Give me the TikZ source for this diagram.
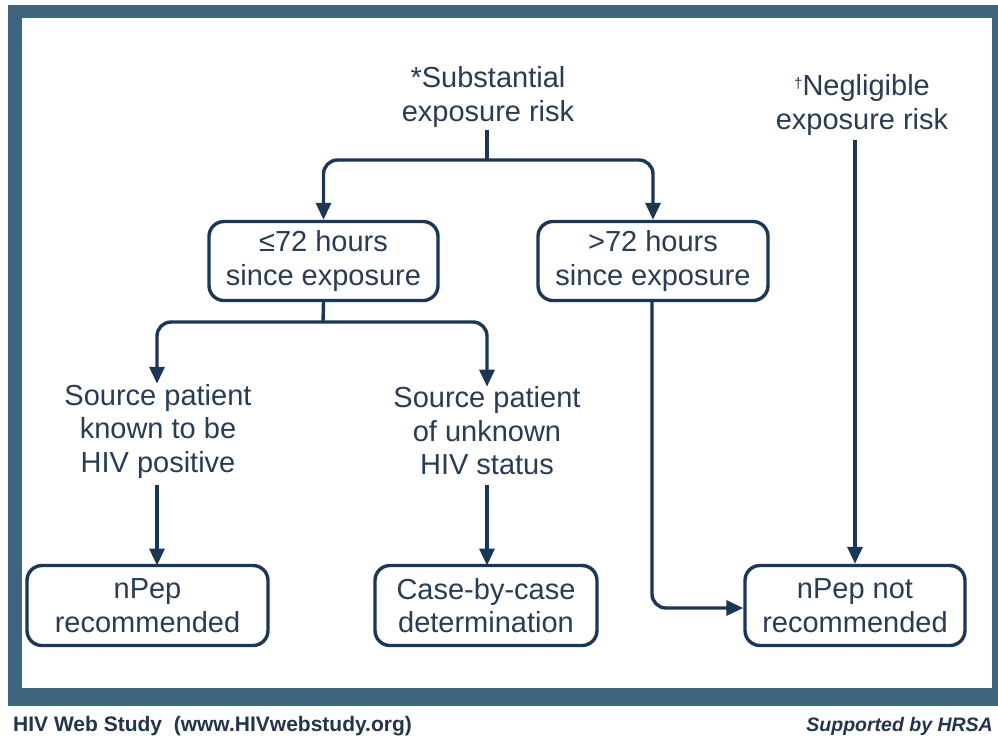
\documentclass[tikz,border=0pt]{standalone}
\usepackage{fontspec}
\setmainfont{Liberation Sans}
\usetikzlibrary{arrows.meta}
\definecolor{framecol}{RGB}{63,101,126}
\definecolor{linecol}{RGB}{28,55,86}
\definecolor{txtcol}{RGB}{40,60,84}
\definecolor{footcol}{RGB}{35,52,75}
\tikzset{
  box/.style={draw=linecol, line width=3.4pt, rounded corners=15pt, align=center,
    text=txtcol, font=\fontsize{29}{33.5}\selectfont, inner sep=0pt},
  label/.style={align=center, text=txtcol, font=\fontsize{29}{33.5}\selectfont, inner sep=0pt},
  conn/.style={draw=linecol, line width=3.4pt, rounded corners=14pt},
  arr/.style={conn, -{Triangle[width=15pt,length=17pt]}},
  foot/.style={text=footcol, inner sep=0pt, font=\fontsize{19.5}{20}\selectfont\bfseries}
}
\begin{document}
\begin{tikzpicture}[x=1pt,y=-1pt]
\useasboundingbox (0,0) rectangle (998,737);
\fill[white] (0,0) rectangle (998,737);
\fill[framecol] (8,5) rectangle (998,706);
\fill[white] (22,18) rectangle (992,688);

\node[label] (sub) at (488,97) {*Substantial\\exposure risk};
\node[label] (neg) at (862,105) {\raisebox{7pt}{\fontsize{15}{15}\selectfont †}Negligible\\exposure risk};

\node[box, minimum width=229pt, minimum height=79pt] (b1) at (323.5,261) {≤72 hours\\since exposure};
\node[box, minimum width=230pt, minimum height=79pt] (b2) at (653,261) {>72 hours\\since exposure};

\node[label] (s1) at (158,431) {Source patient\\known to be\\HIV positive};
\node[label] (s2) at (487,431) {Source patient\\of unknown\\HIV status};

\node[box, minimum width=241pt, minimum height=80pt] (b3) at (147.5,605.5) {nPep\\recommended};
\node[box, minimum width=222pt, minimum height=80pt] (b4) at (486,605.5) {Case-by-case\\determination};
\node[box, minimum width=220pt, minimum height=80pt] (b5) at (855,605.5) {nPep not\\recommended};

\coordinate (j1) at (487,160);
\coordinate (j2) at (323,322);

\draw[conn] (487,130) -- (j1);
\draw[arr] (j1) -| (b1.north);
\draw[arr] (j1) -| (b2.north);

\draw[conn] (b1.south) -- (j2);
\draw[arr] (j2) -| (s1.north -| 157,0);
\draw[arr] (j2) -| (s2.north);

\draw[arr] (157,485) -- (157,565.5);
\draw[arr] (487,485) -- (487,565.5);

\draw[arr] (b2.south -| 652,0) |- (b5.west |- 0,608);
\draw[arr] (855,140) -- (b5.north);

\node[foot, anchor=base west, font=\fontsize{21}{21}\selectfont\bfseries] (f1) at (13,731) {HIV Web Study\ \ (www.HIVwebstudy.org)};
\node[foot, anchor=base east] (f2) at (993,731) {\itshape Supported by HRSA};
\end{tikzpicture}
\end{document}
